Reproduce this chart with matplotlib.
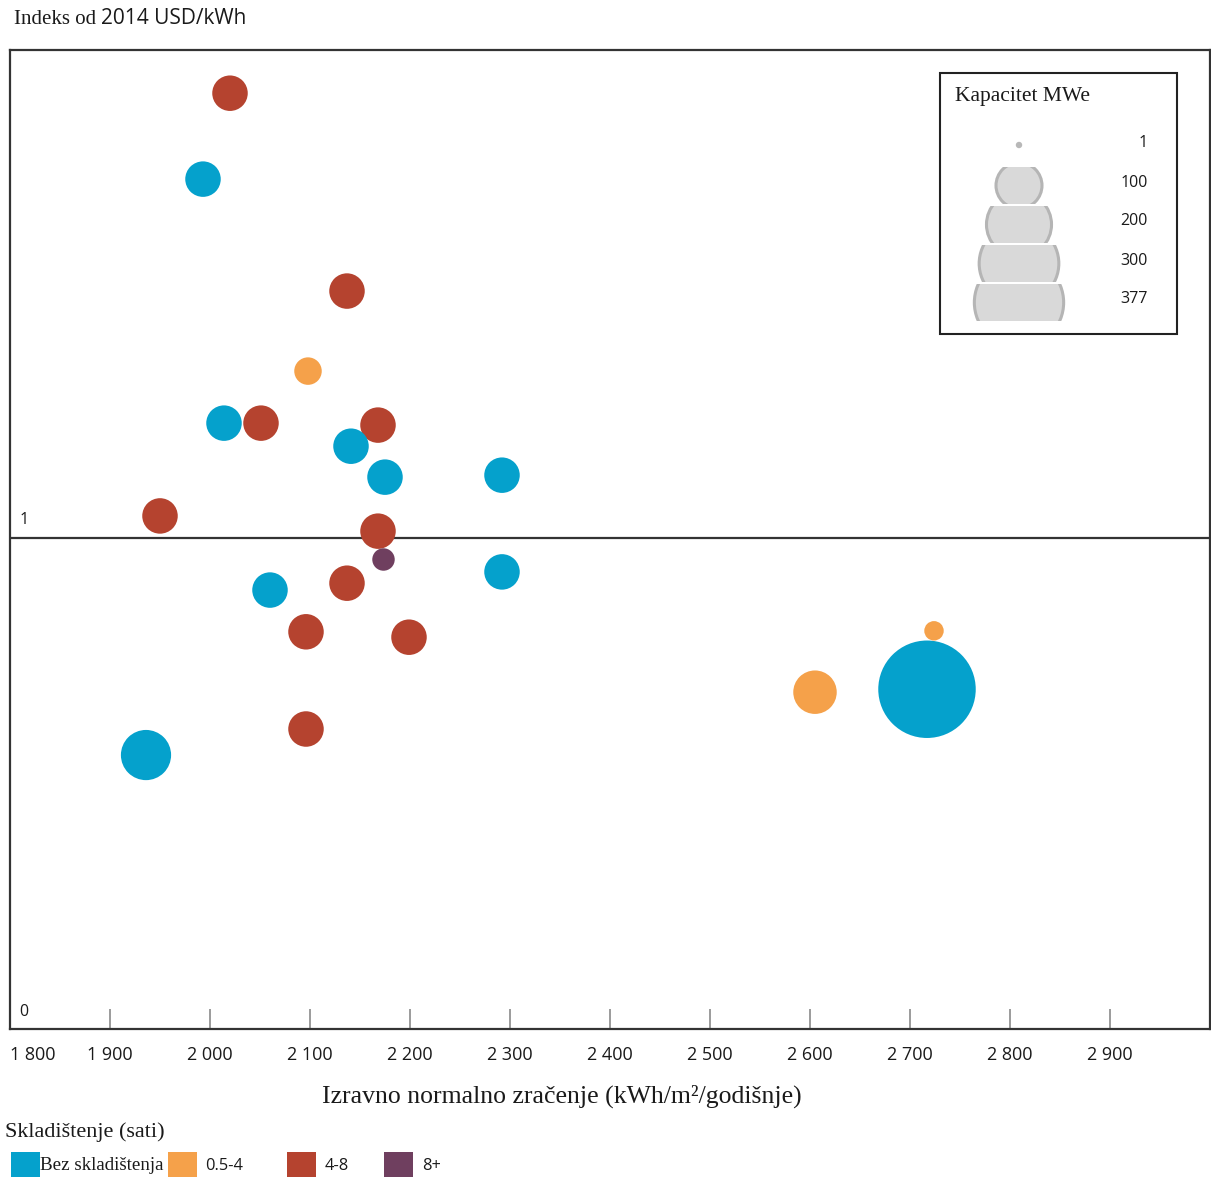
import matplotlib
matplotlib.use("Agg")
import numpy as np
import matplotlib.pyplot as plt
from matplotlib.patches import Circle, Rectangle

# data: x = DNI (kWh/m2/year), y = cost index, cap = MWe
blue_x = [1993, 2014, 2141, 2175, 2292, 2292, 2060, 1936, 2717]
blue_y = [1.731, 1.234, 1.187, 1.124, 1.128, 0.931, 0.894, 0.558, 0.692]
blue_cap = [50, 50, 50, 50, 50, 50, 50, 100, 377]

red_x = [2020, 2137, 2051, 2168, 1950, 2168, 2137, 2096, 2199, 2096]
red_y = [1.906, 1.503, 1.234, 1.230, 1.045, 1.014, 0.908, 0.809, 0.798, 0.611]
red_cap = [50, 50, 50, 50, 50, 50, 50, 50, 50, 50]

orange_x = [2098, 2605, 2724]
orange_y = [1.340, 0.686, 0.811]
orange_cap = [30, 75, 15]

purple_x = [2173]
purple_y = [0.957]
purple_cap = [20]

xticks = [1800, 1900, 2000, 2100, 2200, 2300, 2400, 2500, 2600, 2700, 2800, 2900]
legend_caps = [1, 100, 200, 300, 377]
storage_labels = ["Bez skladištenja", "0.5-4", "4-8", "8+"]

BLUE = "#05a1cc"
ORANGE = "#f5a14a"
RED = "#b5432f"
PURPLE = "#6f3f5f"
INK = "#1a1a1a"
SERIF = "Liberation Serif"
SANS = "Open Sans"

K = 2.51  # bubble radius in px per sqrt(MWe)


def area(caps):
    # scatter size in pt^2 from radius in px (dpi 100)
    r = K * np.sqrt(np.asarray(caps, dtype=float))
    return (2 * r * 0.72) ** 2


W, H = 1211, 1177
fig = plt.figure(figsize=(W / 100, H / 100), dpi=100)
ax = fig.add_axes([10 / W, (H - 1029) / H, 1200 / W, 979 / H])

ax.set_xlim(1800, 3000)
ax.set_ylim(0, 1.994)
ax.axhline(1, color="#333333", lw=1.6, zorder=1)

for xs, ys, caps, col in [
    (red_x, red_y, red_cap, RED),
    (blue_x, blue_y, blue_cap, BLUE),
    (orange_x, orange_y, orange_cap, ORANGE),
    (purple_x, purple_y, purple_cap, PURPLE),
]:
    ax.scatter(xs, ys, s=area(caps), color=col, linewidths=0, zorder=3)

for sp in ax.spines.values():
    sp.set_color("#333333")
    sp.set_linewidth(1.6)

ax.set_yticks([])
ax.set_xticks(xticks)
ax.set_xticklabels([f"{v:,}".replace(",", " ") for v in xticks],
                   fontfamily=SANS, fontsize=13, color=INK)
ax.tick_params(axis="x", direction="in", length=14.4, width=1.2,
               color="#8a8a8a", pad=12)
ax.get_xticklabels()[0].set_ha("left")

ax.text(1814, 1.037, "1", fontfamily=SANS, fontsize=11.5, color=INK,
        ha="center", va="center")
ax.text(1814, 0.035, "0", fontfamily=SANS, fontsize=11.5, color=INK,
        ha="center", va="center")

# overlay in pixel coordinates for titles and legends
ov = fig.add_axes([0, 0, 1, 1], zorder=5)
ov.set_xlim(0, W)
ov.set_ylim(H, 0)
ov.axis("off")
ov.patch.set_alpha(0)

t = ov.text(14, 19, "Indeks od ", fontfamily=SERIF, fontsize=15, color=INK,
            ha="left", va="center")
ov.annotate("2014 USD/kWh", xycoords=t, xy=(1, 0.5), va="center",
            fontfamily=SANS, fontsize=15, color=INK)

ov.text(562, 1096, "Izravno normalno zračenje (kWh/m²/godišnje)",
        fontfamily=SERIF, fontsize=18.5, color=INK, ha="center", va="center")

# capacity legend box
ov.add_patch(Rectangle((940, 73), 237, 261, fill=False, ec="#222222", lw=1.5))
ov.text(955, 97, "Kapacitet MWe", fontfamily=SERIF, fontsize=15.5,
        color=INK, ha="left", va="center")
ov.add_patch(Circle((1019, 145), 3.2, color="#b8b8b8", lw=0))
band_top = [167, 206, 245, 284]
band_h = 37
leg_k = 2.3
for cap, top in zip(legend_caps[1:], band_top):
    clip = Rectangle((900, top), 200, band_h, transform=ov.transData)
    c = Circle((1019, top + band_h / 2), leg_k * np.sqrt(cap),
               fc="#d9d9d9", ec="#b5b5b5", lw=2.2)
    ov.add_patch(c)
    c.set_clip_path(clip)
label_y = [143, 183, 221, 261, 299]
for cap, ly in zip(legend_caps, label_y):
    ov.text(1148, ly, str(cap), fontfamily=SANS, fontsize=11.5, color=INK,
            ha="right", va="center")

# storage legend
ov.text(5, 1132, "Skladištenje (sati)", fontfamily=SERIF, fontsize=16,
        color=INK, ha="left", va="center")
sq_x = [11, 168, 287, 384]
lab_x = [40, 205, 325, 422]
for lab, col, sx, lx in zip(storage_labels, [BLUE, ORANGE, RED, PURPLE], sq_x, lab_x):
    ov.add_patch(Rectangle((sx, 1152), 29, 30, color=col, lw=0))
    fam = SERIF if lab.startswith("Bez") else SANS
    fs = 13.7 if lab.startswith("Bez") else 11.8
    ov.text(lx, 1166, lab, fontfamily=fam, fontsize=fs, color=INK,
            ha="left", va="center")

fig.savefig("out.png", dpi=100)
